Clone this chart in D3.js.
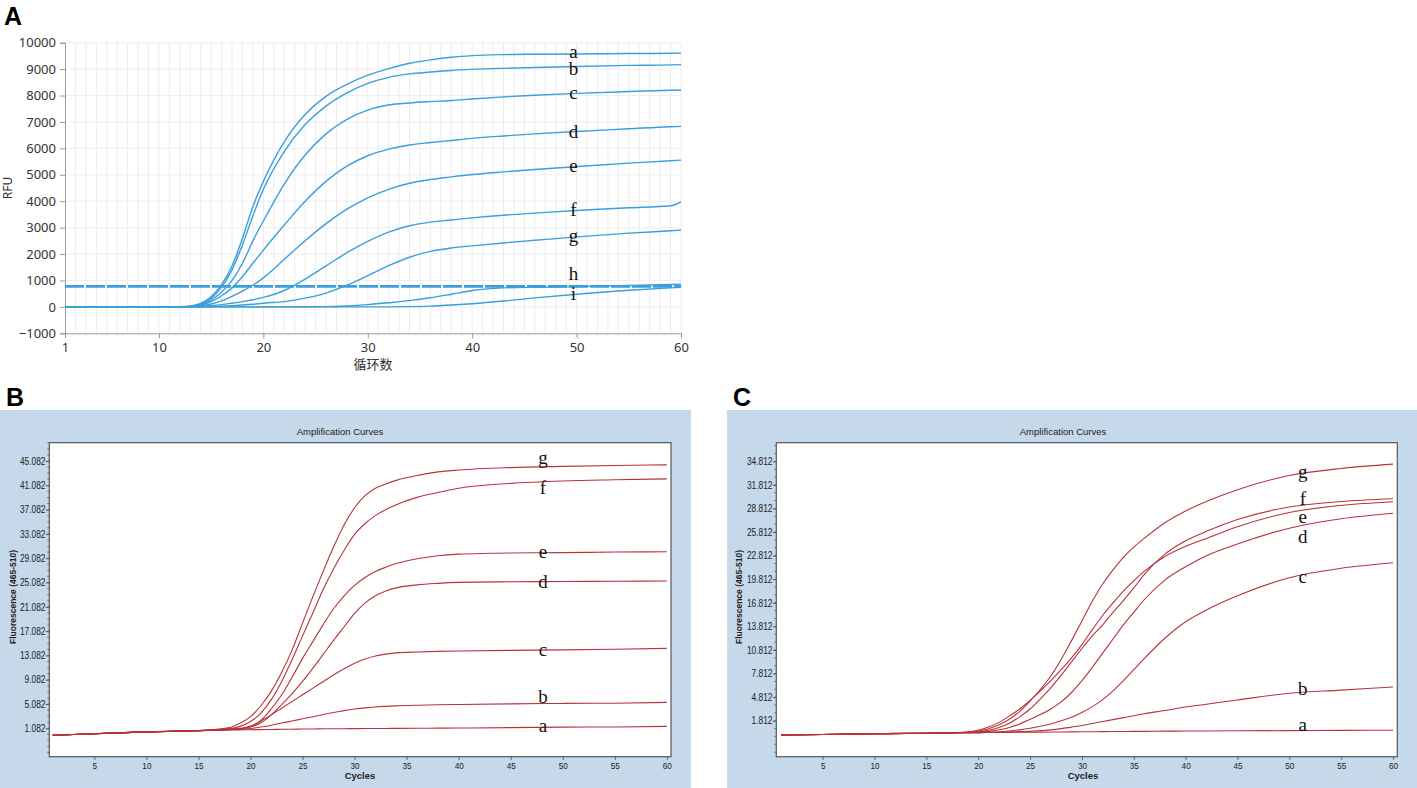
<!DOCTYPE html>
<html>
<head>
<meta charset="utf-8">
<script src="https://cdn.jsdelivr.net/npm/d3@7"></script>
<style>
body { margin: 0; background: #fff; }
svg { display: block; }
</style>
</head>
<body>
<script>
// ---------- panel A : RFU vs cycle ----------
const cyclesA = [1, 11, 12, 13, 14, 15, 16, 17, 18, 19, 20, 22, 24, 26, 28, 30, 32, 34, 36, 38, 40, 43, 46, 50, 55, 59, 60];
const rfuA_a = [0, 0, 5, 30, 130, 380, 850, 1550, 2600, 3800, 4750, 6250, 7280, 7970, 8420, 8770, 9020, 9220, 9350, 9450, 9510, 9550, 9565, 9575, 9590, 9600, 9605];
const rfuA_b = [0, 0, 5, 25, 110, 330, 750, 1400, 2350, 3450, 4450, 5880, 6900, 7600, 8100, 8460, 8690, 8820, 8890, 8950, 8990, 9030, 9060, 9100, 9140, 9160, 9170];
const rfuA_c = [0, 0, 5, 20, 90, 260, 560, 1000, 1650, 2500, 3250, 4650, 5750, 6550, 7100, 7450, 7640, 7720, 7770, 7810, 7870, 7950, 8010, 8080, 8150, 8200, 8210];
const rfuA_d = [0, 0, 3, 15, 70, 200, 420, 720, 1150, 1650, 2150, 3100, 4000, 4750, 5330, 5720, 5970, 6130, 6220, 6300, 6380, 6470, 6550, 6640, 6740, 6820, 6833];
const rfuA_e = [0, 0, 2, 10, 40, 110, 230, 400, 600, 820, 1100, 1800, 2500, 3150, 3700, 4130, 4450, 4680, 4820, 4920, 5010, 5110, 5200, 5310, 5440, 5530, 5557];
const rfuA_f = [0, 0, 1, 5, 20, 45, 85, 140, 200, 270, 360, 620, 1050, 1550, 2050, 2480, 2830, 3070, 3210, 3290, 3370, 3470, 3550, 3650, 3750, 3826, 3977];
const rfuA_g = [0, 0, 0, 2, 5, 12, 25, 45, 70, 100, 140, 200, 330, 520, 820, 1180, 1560, 1880, 2100, 2230, 2310, 2420, 2520, 2650, 2790, 2880, 2905];
const rfuA_h = [0, 0, 0, 0, 0, 0, 0, 0, 0, 0, 0, 0, 2, 8, 35, 85, 155, 235, 345, 480, 620, 720, 745, 765, 810, 850, 860];
const rfuA_i = [0, 0, 0, 0, 0, 0, 0, 0, 0, 0, 0, 0, 0, 0, 0, 0, 2, 10, 30, 70, 120, 220, 340, 480, 630, 720, 740];
const thresholdA = 775;
const namesA = ['a', 'b', 'c', 'd', 'e', 'f', 'g', 'h', 'i'];
const yTicksA = [-1000, 0, 1000, 2000, 3000, 4000, 5000, 6000, 7000, 8000, 9000, 10000];
const xTicksA = [1, 10, 20, 30, 40, 50, 60];

// ---------- panel B : fluorescence vs cycles ----------
const cyclesB = [1, 5, 10, 15, 18, 19, 20, 21, 22, 23, 24, 25, 26, 27, 28, 29, 30, 31, 32, 33, 34, 36, 38, 40, 45, 50, 55, 60];
const fluB_a = [-0.05, 0.2, 0.5, 0.7, 0.8, 0.82, 0.85, 0.87, 0.9, 0.92, 0.94, 0.96, 0.98, 1.0, 1.01, 1.02, 1.03, 1.04, 1.05, 1.06, 1.07, 1.09, 1.11, 1.13, 1.2, 1.28, 1.3, 1.4];
const fluB_b = [-0.05, 0.2, 0.5, 0.7, 0.85, 0.95, 1.05, 1.3, 1.6, 1.95, 2.3, 2.65, 3.0, 3.35, 3.7, 4.0, 4.25, 4.45, 4.6, 4.7, 4.78, 4.88, 4.95, 5.0, 5.1, 5.18, 5.22, 5.35];
const fluB_c = [-0.05, 0.2, 0.5, 0.7, 0.9, 1.0, 1.4, 2.3, 3.3, 4.4, 5.5, 6.6, 7.7, 8.8, 9.9, 10.9, 11.8, 12.5, 13.0, 13.3, 13.5, 13.65, 13.75, 13.82, 13.92, 14.0, 14.1, 14.25];
const fluB_d = [-0.05, 0.2, 0.5, 0.7, 0.9, 1.0, 1.3, 2.0, 3.3, 5.0, 6.8, 8.8, 11.0, 13.3, 15.6, 17.8, 20.0, 21.7, 22.9, 23.7, 24.2, 24.7, 24.95, 25.1, 25.2, 25.25, 25.3, 25.33];
const fluB_e = [-0.05, 0.2, 0.5, 0.7, 0.95, 1.1, 1.4, 2.4, 4.3, 6.6, 9.5, 12.6, 15.4, 18.2, 20.8, 22.9, 24.6, 25.9, 26.9, 27.6, 28.2, 29.0, 29.5, 29.75, 29.95, 30.0, 30.1, 30.15];
const fluB_f = [-0.05, 0.2, 0.5, 0.7, 1.0, 1.4, 2.2, 3.6, 5.8, 8.8, 12.4, 16.3, 20.1, 24.0, 27.4, 30.4, 33.0, 34.8, 36.1, 37.1, 37.9, 39.1, 39.9, 40.6, 41.4, 41.8, 42.0, 42.15];
const fluB_g = [-0.05, 0.2, 0.5, 0.7, 1.2, 1.9, 3.0, 4.8, 7.2, 10.3, 14.0, 18.4, 22.8, 27.0, 31.0, 34.6, 37.4, 39.4, 40.6, 41.3, 41.9, 42.7, 43.3, 43.6, 44.0, 44.2, 44.35, 44.45];
const yTicksB = [1.082, 5.082, 9.082, 13.082, 17.082, 21.082, 25.082, 29.082, 33.082, 37.082, 41.082, 45.082];

// ---------- panel C : fluorescence vs cycles ----------
const cyclesC = [1, 5, 10, 15, 18, 19, 20, 21, 22, 23, 24, 25, 26, 27, 28, 29, 30, 31, 32, 33, 34, 35, 36, 38, 40, 42, 45, 50, 55, 60];
const fluC_a = [0, 0.05, 0.15, 0.22, 0.28, 0.29, 0.3, 0.31, 0.32, 0.33, 0.34, 0.35, 0.36, 0.37, 0.38, 0.39, 0.4, 0.41, 0.42, 0.43, 0.44, 0.45, 0.46, 0.48, 0.5, 0.51, 0.53, 0.55, 0.58, 0.6];
const fluC_b = [0, 0.05, 0.15, 0.22, 0.28, 0.29, 0.3, 0.32, 0.35, 0.38, 0.42, 0.46, 0.55, 0.65, 0.8, 1.0, 1.2, 1.45, 1.7, 1.95, 2.2, 2.45, 2.7, 3.1, 3.55, 3.9, 4.45, 5.3, 5.7, 6.1];
const fluC_c = [0, 0.05, 0.15, 0.22, 0.28, 0.29, 0.3, 0.35, 0.4, 0.5, 0.65, 0.85, 1.1, 1.4, 1.8, 2.25, 2.85, 3.6, 4.5, 5.6, 6.9, 8.3, 9.7, 12.3, 14.4, 15.9, 17.7, 20.0, 21.2, 21.9];
const fluC_d = [0, 0.05, 0.15, 0.22, 0.28, 0.3, 0.35, 0.45, 0.65, 0.95, 1.4, 2.0, 2.6, 3.3, 4.2, 5.4, 6.9, 8.6, 10.4, 12.2, 14.0, 15.6, 17.2, 19.7, 21.4, 22.8, 24.3, 26.3, 27.5, 28.2];
const fluC_e = [0, 0.05, 0.15, 0.22, 0.3, 0.4, 0.6, 1.0, 1.6, 2.4, 3.3, 4.4, 5.6, 6.9, 8.3, 9.8, 11.5, 13.4, 15.2, 16.8, 18.3, 19.6, 20.8, 22.7, 24.0, 25.0, 26.5, 28.3, 29.2, 29.67];
const fluC_f = [0, 0.05, 0.15, 0.22, 0.28, 0.32, 0.4, 0.6, 0.95, 1.5, 2.3, 3.3, 4.6, 6.0, 7.6, 9.3, 11.0, 12.6, 14.0, 15.6, 17.1, 18.7, 20.4, 23.0, 24.7, 25.9, 27.4, 29.0, 29.7, 30.05];
const fluC_g = [0, 0.05, 0.15, 0.22, 0.28, 0.35, 0.5, 0.8, 1.3, 2.0, 3.0, 4.3, 5.8, 7.5, 9.6, 12.0, 14.5, 17.0, 19.2, 21.0, 22.6, 23.9, 25.0, 27.0, 28.5, 29.7, 31.2, 33.0, 33.9, 34.45];
const yTicksC = [1.812, 4.812, 7.812, 10.812, 13.812, 16.812, 19.812, 22.812, 25.812, 28.812, 31.812, 34.812];

const namesBC = ['a', 'b', 'c', 'd', 'e', 'f', 'g'];
const xTicksBC = [5, 10, 15, 20, 25, 30, 35, 40, 45, 50, 55, 60];

const svg = d3.select('body').append('svg')
    .attr('width', 1417)
    .attr('height', 788);

// ================= panel A =================
const xA = d3.scaleLinear().domain([1, 60]).range([65, 681]);
const yA = d3.scaleLinear().domain([-1000, 10000]).range([333.3, 42.7]);
const gA = svg.append('g');

// faint grid, one line per cycle and per 1000
gA.append('g').selectAll('line')
    .data(d3.range(2, 61))
    .enter().append('line')
    .attr('x1', d => xA(d)).attr('x2', d => xA(d))
    .attr('y1', yA(10000)).attr('y2', yA(-1000))
    .attr('stroke', '#ececec');
gA.append('g').selectAll('line')
    .data(yTicksA.slice(1))
    .enter().append('line')
    .attr('x1', xA(1)).attr('x2', xA(60))
    .attr('y1', d => yA(d)).attr('y2', d => yA(d))
    .attr('stroke', '#efefef');

const axA_y = gA.append('g')
    .attr('transform', `translate(${xA(1)},0)`)
    .call(d3.axisLeft(yA).tickValues(yTicksA).tickSize(5).tickPadding(4).tickFormat(d3.format('d')));
const axA_x = gA.append('g')
    .attr('transform', `translate(0,${yA(-1000)})`)
    .call(d3.axisBottom(xA).tickValues(xTicksA).tickSize(5).tickPadding(4).tickSizeOuter(0));
[axA_y, axA_x].forEach(ax => {
    ax.select('.domain').attr('stroke', '#9a9a9a');
    ax.selectAll('.tick line').attr('stroke', '#9a9a9a');
    ax.selectAll('.tick text')
        .attr('fill', '#333')
        .style('font-family', '"Noto Sans", "Open Sans", sans-serif')
        .style('font-size', '13px');
});

gA.append('text')
    .attr('transform', `translate(7,${(yA(10000) + yA(-1000)) / 2}) rotate(-90)`)
    .attr('text-anchor', 'middle')
    .attr('dominant-baseline', 'central')
    .style('font-family', '"Noto Sans", sans-serif')
    .style('font-size', '12px')
    .attr('fill', '#333')
    .text('RFU');
gA.append('text')
    .attr('x', 373).attr('y', 369)
    .attr('text-anchor', 'middle')
    .style('font-family', '"Noto Sans CJK SC", sans-serif')
    .style('font-size', '13px')
    .attr('fill', '#333')
    .text('循环数');

// threshold
gA.append('line')
    .attr('x1', xA(1)).attr('x2', xA(60))
    .attr('y1', yA(thresholdA)).attr('y2', yA(thresholdA))
    .attr('stroke', '#3a9fdc')
    .attr('stroke-width', 2.6)
    .attr('stroke-dasharray', '19,2');

const seriesA = [rfuA_a, rfuA_b, rfuA_c, rfuA_d, rfuA_e, rfuA_f, rfuA_g, rfuA_h, rfuA_i];
const lineA = d3.line()
    .x((d, i) => xA(cyclesA[i]))
    .y(d => yA(d))
    .curve(d3.curveMonotoneX);
gA.append('g').selectAll('path')
    .data(seriesA)
    .enter().append('path')
    .attr('d', lineA)
    .attr('fill', 'none')
    .attr('stroke', '#3a9fdc')
    .attr('stroke-width', 1.4);

// curve letters sit on each curve at cycle 50
const i50A = cyclesA.indexOf(50);
const nudgeA = [-2, 2, -1, 0, -1, -1, -1, -13, -1];
gA.append('g').selectAll('text')
    .data(seriesA)
    .enter().append('text')
    .attr('x', xA(49.7))
    .attr('y', (d, i) => yA(d[i50A]) + nudgeA[i])
    .attr('text-anchor', 'middle')
    .attr('dominant-baseline', 'central')
    .style('font-family', '"Liberation Serif", "Times New Roman", serif')
    .style('font-size', '19px')
    .attr('fill', '#111')
    .text((d, i) => namesA[i]);

svg.append('text')
    .attr('x', 4).attr('y', 25)
    .style('font-family', '"Liberation Sans", Arial, sans-serif')
    .style('font-weight', 'bold')
    .style('font-size', '25px')
    .text('A');

// ================= panels B and C =================
function drawAmp(opt) {
    const g = svg.append('g');
    g.append('rect')
        .attr('x', opt.bgX).attr('y', 410)
        .attr('width', opt.bgW).attr('height', 378)
        .attr('fill', '#c6d9ea');

    const x = d3.scaleLinear().domain(opt.xDomain).range([opt.left, opt.right]);
    const y = d3.scaleLinear().domain(opt.yDomain).range([756.7, 442.7]);

    g.append('rect')
        .attr('x', opt.left).attr('y', 442.7)
        .attr('width', opt.right - opt.left).attr('height', 314)
        .attr('fill', '#fff')
        .attr('stroke', '#505860')
        .attr('stroke-width', 1.2);

    // minor ticks on the y axis, one per unit
    const minor = d3.range(Math.ceil(opt.yDomain[0] - opt.yTicks[0]), Math.floor(opt.yDomain[1] - opt.yTicks[0]) + 1)
        .map(k => opt.yTicks[0] + k);
    g.append('g').selectAll('line')
        .data(minor)
        .enter().append('line')
        .attr('x1', opt.left - 2).attr('x2', opt.left)
        .attr('y1', d => y(d)).attr('y2', d => y(d))
        .attr('stroke', '#505860')
        .attr('stroke-width', 0.8);

    const ay = g.append('g')
        .attr('transform', `translate(${opt.left},0)`)
        .call(d3.axisLeft(y).tickValues(opt.yTicks).tickSize(3.5).tickPadding(1).tickFormat(d3.format('.3f')));
    const ax = g.append('g')
        .attr('transform', `translate(0,756.7)`)
        .call(d3.axisBottom(x).tickValues(xTicksBC).tickSize(3).tickPadding(3).tickFormat(d3.format('d')));
    [ay, ax].forEach(a => {
        a.select('.domain').remove();
        a.selectAll('.tick line').attr('stroke', '#505860');
        a.selectAll('.tick text')
            .attr('fill', '#222')
            .style('font-family', '"Liberation Sans", Arial, sans-serif');
    });
    // the instrument software uses a narrow face: squeeze the labels
    ay.selectAll('.tick text')
        .style('font-size', '10px')
        .attr('transform', 'scale(0.84,1)');
    ax.selectAll('.tick text')
        .style('font-size', '9.5px')
        .attr('transform', 'scale(0.86,1)');

    g.append('text')
        .attr('x', opt.titleX).attr('y', 435)
        .attr('text-anchor', 'middle')
        .style('font-family', '"Liberation Sans", Arial, sans-serif')
        .style('font-size', '9.5px')
        .attr('fill', '#222')
        .text('Amplification Curves');
    g.append('text')
        .attr('transform', `translate(${opt.yLabelX},597) rotate(-90)`)
        .attr('text-anchor', 'middle')
        .attr('dominant-baseline', 'central')
        .style('font-family', '"Liberation Sans", Arial, sans-serif')
        .style('font-weight', 'bold')
        .style('font-size', '8.5px')
        .attr('fill', '#222')
        .text('Fluorescence (465-510)');
    g.append('text')
        .attr('x', opt.xLabelX).attr('y', 779)
        .attr('text-anchor', 'middle')
        .style('font-family', '"Liberation Sans", Arial, sans-serif')
        .style('font-weight', 'bold')
        .style('font-size', '9.5px')
        .attr('fill', '#222')
        .text('Cycles');

    const line = d3.line()
        .x((d, i) => x(opt.cycles[i]))
        .y(d => y(d))
        .curve(d3.curveMonotoneX);
    g.append('g').selectAll('path')
        .data(opt.series)
        .enter().append('path')
        .attr('d', line)
        .attr('fill', 'none')
        .attr('stroke', '#b8323a')
        .attr('stroke-width', 1.1);

    const i50 = opt.cycles.indexOf(50);
    g.append('g').selectAll('text')
        .data(opt.series)
        .enter().append('text')
        .attr('x', x(opt.labelCycle))
        .attr('y', (d, i) => y(d[i50]) + opt.nudge[i])
        .attr('text-anchor', 'middle')
        .attr('dominant-baseline', 'central')
        .style('font-family', '"Liberation Serif", "Times New Roman", serif')
        .style('font-size', '19px')
        .attr('fill', '#111')
        .text((d, i) => namesBC[i]);

    svg.append('text')
        .attr('x', opt.letterX).attr('y', 406)
        .style('font-family', '"Liberation Sans", Arial, sans-serif')
        .style('font-weight', 'bold')
        .style('font-size', '25px')
        .text(opt.letter);
}

drawAmp({
    letter: 'B', letterX: 6,
    bgX: 0, bgW: 691,
    left: 49.3, right: 671,
    xDomain: [0.67, 60.4], yDomain: [-3.59, 48.1],
    yTicks: yTicksB,
    cycles: cyclesB,
    series: [fluB_a, fluB_b, fluB_c, fluB_d, fluB_e, fluB_f, fluB_g],
    labelCycle: 48.1,
    nudge: [-2, -7, 0, 0, -1, 7, -9],
    titleX: 340, yLabelX: 12.7, xLabelX: 360
});

drawAmp({
    letter: 'C', letterX: 733,
    bgX: 727, bgW: 690,
    left: 776.3, right: 1397.3,
    xDomain: [0.53, 60.41], yDomain: [-2.768, 37.18],
    yTicks: yTicksC,
    cycles: cyclesC,
    series: [fluC_a, fluC_b, fluC_c, fluC_d, fluC_e, fluC_f, fluC_g],
    labelCycle: 51.3,
    nudge: [-6, -5, -1, 8, 4, -8, -4],
    titleX: 1063, yLabelX: 739, xLabelX: 1083
});
</script>
</body>
</html>
